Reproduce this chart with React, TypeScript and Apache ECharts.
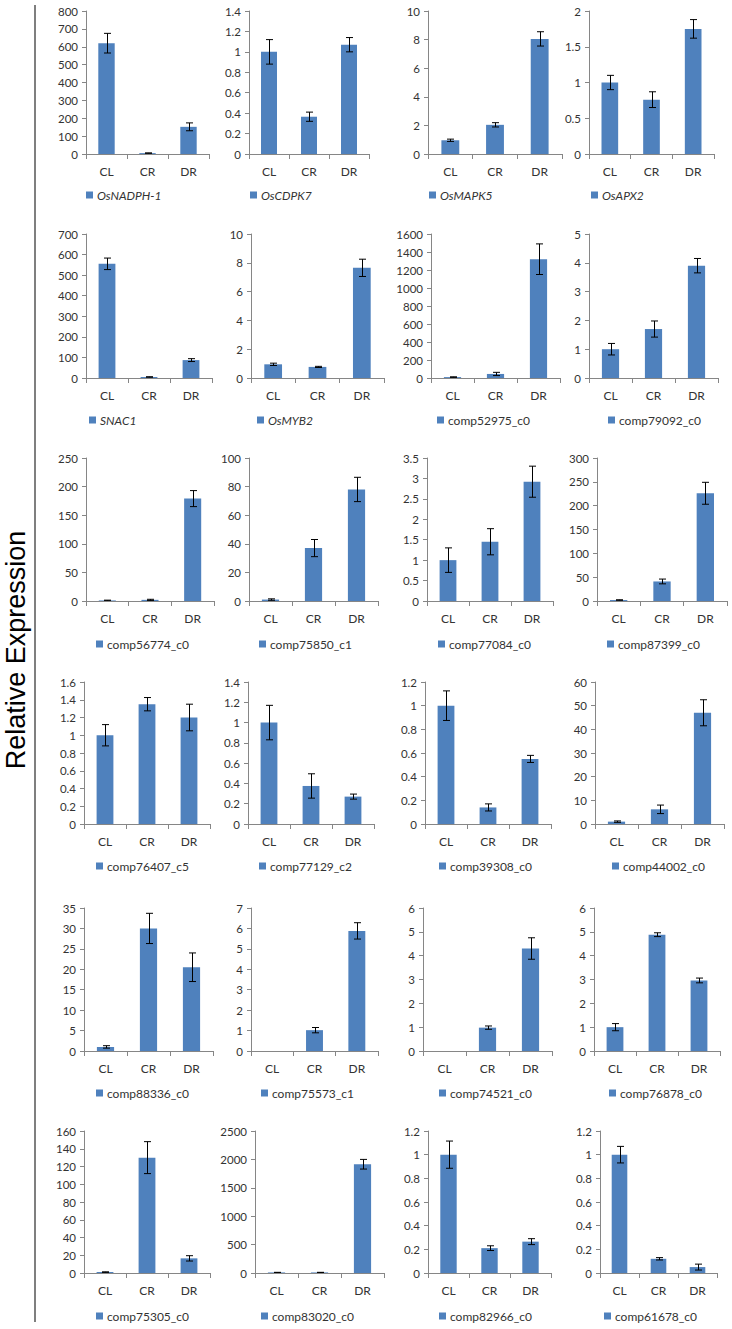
import React, { useEffect, useRef } from "react";
import * as echarts from "echarts";

// ---------- DATA ----------
const categories = ["CL", "CR", "DR"];

const geneNames = [
  "OsNADPH-1", "OsCDPK7", "OsMAPK5", "OsAPX2",
  "SNAC1", "OsMYB2", "comp52975_c0", "comp79092_c0",
  "comp56774_c0", "comp75850_c1", "comp77084_c0", "comp87399_c0",
  "comp76407_c5", "comp77129_c2", "comp39308_c0", "comp44002_c0",
  "comp88336_c0", "comp75573_c1", "comp74521_c0", "comp76878_c0",
  "comp75305_c0", "comp83020_c0", "comp82966_c0", "comp61678_c0",
];

// italic legend names (gene symbols)
const italicGenes = ["OsNADPH-1", "OsCDPK7", "OsMAPK5", "OsAPX2", "SNAC1", "OsMYB2"];

// mean relative expression [CL, CR, DR]
const meanValues: number[][] = [
  [620, 5, 152], [1.0, 0.365, 1.07], [0.96, 2.04, 8.05], [1.0, 0.76, 1.75],
  [555, 5, 87], [0.95, 0.77, 7.65], [10, 45, 1320], [1.0, 1.7, 3.9],
  [1, 2, 179], [1, 37, 78], [1.0, 1.45, 2.92], [2, 41, 226],
  [1.0, 1.35, 1.2], [1.0, 0.375, 0.27], [1.0, 0.14, 0.55], [1, 6.2, 47],
  [1.0, 30, 20.5], [0, 1.02, 5.88], [0, 0.98, 4.3], [1.0, 4.88, 2.96],
  [1, 130, 16.5], [10, 10, 1915], [1.0, 0.21, 0.265], [1.0, 0.12, 0.05],
];

// error (±) [CL, CR, DR]
const errorValues: number[][] = [
  [55, 1, 22], [0.12, 0.045, 0.07], [0.08, 0.15, 0.5], [0.1, 0.11, 0.13],
  [28, 1, 7], [0.08, 0.04, 0.6], [3, 18, 170], [0.2, 0.28, 0.25],
  [0.5, 1, 14], [0.5, 6, 8.5], [0.3, 0.32, 0.38], [0.5, 5, 23],
  [0.12, 0.075, 0.15], [0.17, 0.12, 0.025], [0.125, 0.03, 0.03], [0.3, 1.8, 5.5],
  [0.3, 3.7, 3.5], [0, 0.13, 0.4], [0, 0.07, 0.45], [0.15, 0.08, 0.1],
  [0.3, 18, 3], [2, 2, 85], [0.115, 0.02, 0.025], [0.07, 0.01, 0.025],
];

// y-axis maxima and tick intervals
const axisMax = [
  800, 1.4, 10, 2,
  700, 10, 1600, 5,
  250, 100, 3.5, 300,
  1.6, 1.4, 1.2, 60,
  35, 7, 6, 6,
  160, 2500, 1.2, 1.2,
];
const axisInterval = [
  100, 0.2, 2, 0.5,
  100, 2, 200, 1,
  50, 20, 0.5, 50,
  0.2, 0.2, 0.2, 10,
  5, 1, 1, 1,
  20, 500, 0.2, 0.2,
];

const yAxisTitle = "Relative Expression";

// ---------- LAYOUT ----------
const rowTops = [11, 234, 458, 682, 908, 1131];
const rowHeights = [143, 144, 143, 142, 143, 142];
const colLayouts: number[][][] = [
  [[86, 123], [249, 120], [428, 134], [589, 125]],
  [[86, 126], [251, 133], [431, 129], [589, 129]],
  [[86, 128], [249, 129], [427, 126], [597, 130]],
  [[84, 126], [248, 126], [425, 126], [595, 129]],
  [[84, 129], [251, 127], [423, 129], [594, 126]],
  [[84, 126], [255, 129], [428, 123], [600, 117]],
];
const legendRowY = [196, 421, 645, 867, 1094, 1317];
const legendLefts: number[][] = [
  [86, 250, 429, 591],
  [89, 257, 437, 608],
  [96, 259, 438, 607],
  [96, 259, 439, 612],
  [96, 261, 439, 609],
  [96, 261, 439, 604],
];

const BAR_COLOR = "#4f81bd";
const AXIS_COLOR = "#868686";
const TEXT_COLOR = "#333333";
const FONT = "Lato, 'Open Sans', sans-serif";

function buildOption() {
  const grid: any[] = [];
  const xAxis: any[] = [];
  const yAxis: any[] = [];
  const series: any[] = [];
  const legend: any[] = [];

  geneNames.forEach((name, i) => {
    const r = Math.floor(i / 4);
    const c = i % 4;
    const [left, width] = colLayouts[r][c];
    grid.push({ left, top: rowTops[r], width, height: rowHeights[r], containLabel: false });
    xAxis.push({
      type: "category",
      gridIndex: i,
      data: categories,
      axisLine: { show: true, lineStyle: { color: AXIS_COLOR, width: 1 } },
      axisTick: { show: true, length: 5, lineStyle: { color: AXIS_COLOR } },
      axisLabel: { color: TEXT_COLOR, fontSize: 12, fontFamily: FONT, margin: 11 },
      splitLine: { show: false },
    });
    yAxis.push({
      type: "value",
      gridIndex: i,
      min: 0,
      max: axisMax[i],
      interval: axisInterval[i],
      axisLine: { show: true, lineStyle: { color: AXIS_COLOR, width: 1 } },
      axisTick: { show: true, length: 4, lineStyle: { color: AXIS_COLOR } },
      axisLabel: {
        color: TEXT_COLOR,
        fontSize: 11.5,
        fontFamily: FONT,
        margin: 8,
        formatter: (v: number) => String(+Number(v).toFixed(4)),
      },
      splitLine: { show: false },
    });
    series.push({
      type: "bar",
      name,
      xAxisIndex: i,
      yAxisIndex: i,
      data: meanValues[i],
      barWidth: "40%",
      z: 2,
      itemStyle: { color: BAR_COLOR },
      silent: true,
    });
    series.push({
      type: "custom",
      name: name + "_err",
      xAxisIndex: i,
      yAxisIndex: i,
      clip: true,
      silent: true,
      z: 5,
      data: meanValues[i].map((v, k) => [k, v - errorValues[i][k], v + errorValues[i][k], errorValues[i][k]]),
      renderItem: (params: any, api: any) => {
        if (api.value(3) <= 0) return null;
        const lo = api.coord([api.value(0), api.value(1)]);
        const hi = api.coord([api.value(0), api.value(2)]);
        const x = Math.round(lo[0]) + 0.5;
        const cap = 3.5;
        const style = { stroke: "#000", lineWidth: 1 };
        return {
          type: "group",
          z2: 10,
          children: [
            { type: "line", z2: 10, shape: { x1: x, y1: lo[1], x2: x, y2: hi[1] }, style },
            { type: "line", z2: 10, shape: { x1: x - cap, y1: hi[1], x2: x + cap, y2: hi[1] }, style },
            { type: "line", z2: 10, shape: { x1: x - cap, y1: lo[1], x2: x + cap, y2: lo[1] }, style },
          ],
        };
      },
    });
    legend.push({
      data: [name],
      left: legendLefts[r][c],
      top: legendRowY[r] - 7,
      padding: 0,
      icon: "rect",
      itemWidth: 7,
      itemHeight: 7,
      itemGap: 4,
      selectedMode: false,
      textStyle: {
        color: TEXT_COLOR,
        fontSize: 12,
        fontFamily: FONT,
        fontStyle: italicGenes.includes(name) ? "italic" : "normal",
        padding: [0, 0, 0, -1],
      },
    });
  });

  return {
    animation: false,
    backgroundColor: "#ffffff",
    grid,
    xAxis,
    yAxis,
    series,
    legend,
    graphic: [
      {
        type: "line",
        shape: { x1: 35, y1: 5, x2: 35, y2: 1322 },
        style: { stroke: "#7f7f7f", lineWidth: 2 },
      },
      {
        type: "text",
        x: 16,
        y: 650,
        rotation: Math.PI / 2,
        style: {
          text: yAxisTitle,
          fill: "#000",
          font: "27px 'Liberation Sans', Arial, sans-serif",
          align: "center",
          verticalAlign: "middle",
        },
      },
    ],
  };
}

export default function App() {
  const ref = useRef<HTMLDivElement>(null);
  useEffect(() => {
    if (!ref.current) return;
    const chart = echarts.init(ref.current, undefined, { renderer: "svg" });
    chart.setOption(buildOption() as any);
    return () => chart.dispose();
  }, []);
  return (
    <div
      ref={ref}
      style={{ position: "absolute", left: 0, top: 0, width: 732, height: 1329, background: "#fff" }}
    />
  );
}
